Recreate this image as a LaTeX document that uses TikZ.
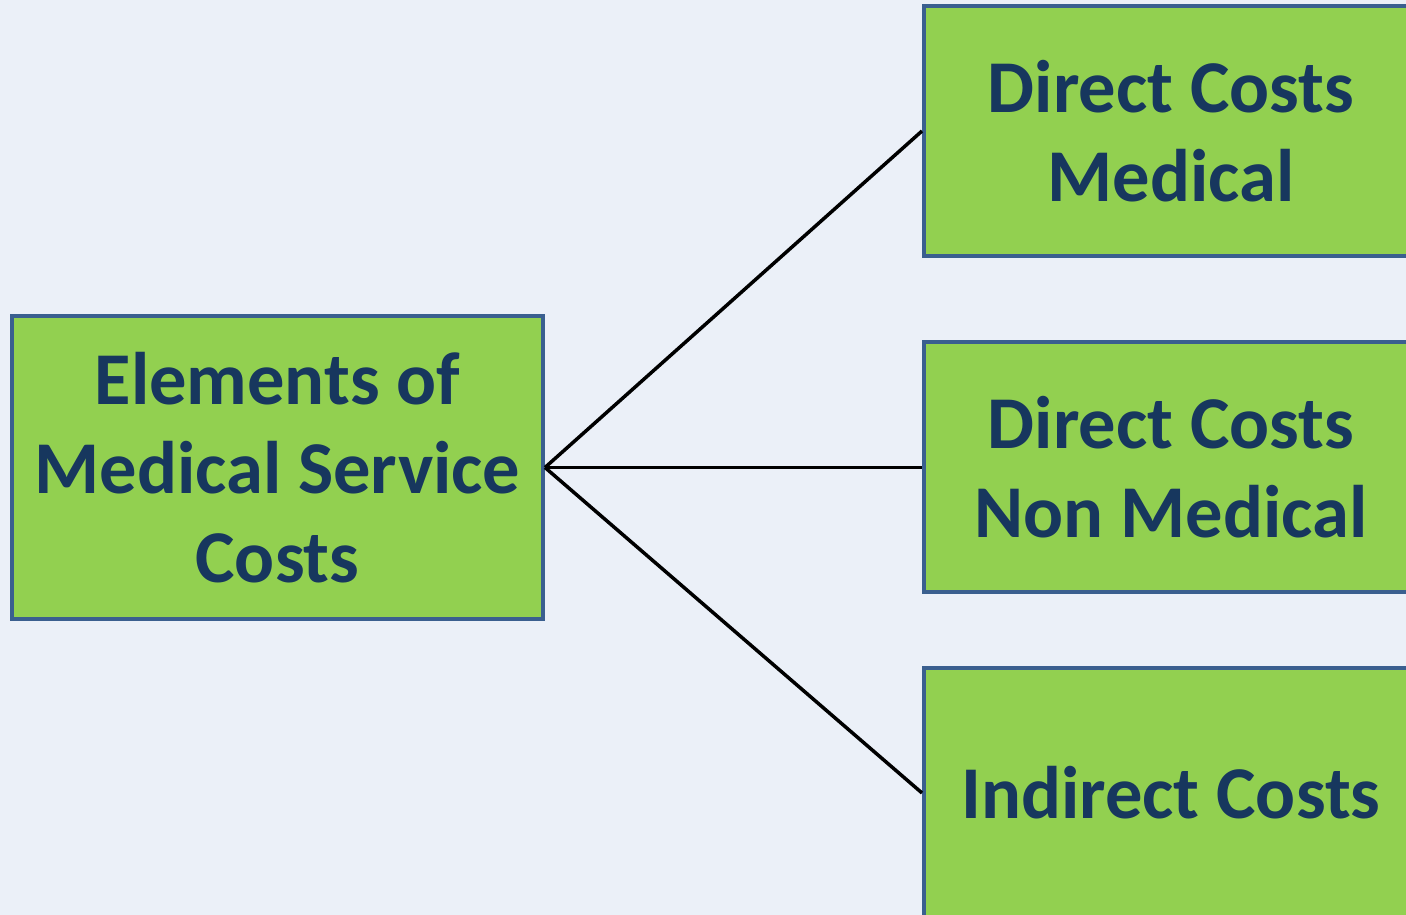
\documentclass[tikz,border=0pt]{standalone}
\usepackage{fontspec}
\setmainfont{Carlito}
\definecolor{PageBg}{RGB}{235,240,248}
\definecolor{CostGreen}{RGB}{146,208,80}
\definecolor{CostEdge}{RGB}{58,95,143}
\definecolor{CostText}{RGB}{23,55,94}

\begin{document}
\begin{tikzpicture}[
    x=1pt, y=1pt,
    box/.style={draw=CostEdge, line width=4pt, fill=CostGreen, align=center, inner sep=0pt,
      text=CostText, font=\fontsize{74.5}{89}\selectfont\bfseries},
    link/.style={draw=black, line width=3.5pt}
  ]
    % page
    \fill[PageBg] (0,0) rectangle (1406,915);
    \useasboundingbox (0,0) rectangle (1406,915);
    \clip (0,0) rectangle (1406,915);

    % root
    \node[box, minimum width=531pt, minimum height=303pt] (root) at (277.5,447.5) {Elements of\\Medical Service\\Costs};

    % cost types
    \node[box, minimum width=494pt, minimum height=250pt] (medical) at (1171,784) {Direct Costs\\Medical};
    \node[box, minimum width=494pt, minimum height=250pt] (nonmedical) at (1171,447.5) {Direct Costs\\Non Medical};
    \node[box, minimum width=494pt, minimum height=250pt] (indirect) at (1171,122) {Indirect Costs};

    % connectors
    \draw[link] (root.east) -- (medical.west);
    \draw[link] (root.east) -- (nonmedical.west);
    \draw[link] (root.east) -- (indirect.west);
  \end{tikzpicture}
\end{document}
